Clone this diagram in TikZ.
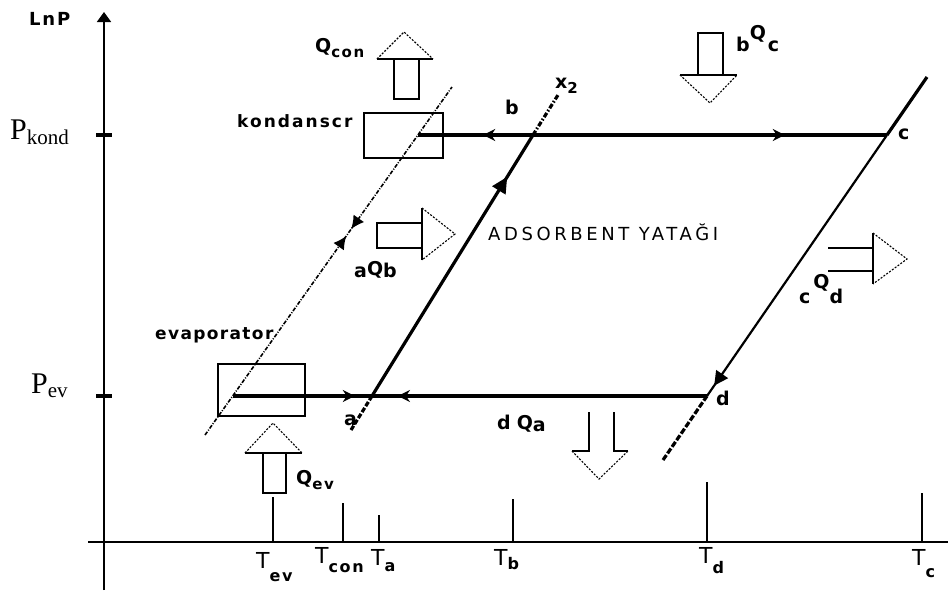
\documentclass[tikz,border=0pt]{standalone}
\usepackage{fontspec}
\setmainfont{Liberation Serif}
\newfontfamily\lab[LetterSpace=10]{DejaVu Sans}
\newfontfamily\labk[LetterSpace=12]{DejaVu Sans}
\newfontfamily\labe[LetterSpace=8]{DejaVu Sans}
\newfontfamily\labw[LetterSpace=20]{DejaVu Sans}
\newfontfamily\labn{DejaVu Sans}
\usetikzlibrary{arrows.meta,decorations.markings}
\newcommand\fsz[1]{\fontsize{#1}{#1}\selectfont}
\newcommand\Tlab[2]{{\labn\fsz{22}T}\raisebox{-#2pt}{\lab\bfseries\fsz{16}#1}}
\newcommand\Qsub[1]{\raisebox{-5pt}{\fsz{15}#1}}
\begin{document}
\begin{tikzpicture}[x=1pt,y=-1pt,
  axis/.style={line width=1.8pt},
  main/.style={line width=3.2pt},
  midline/.style={line width=2.2pt},
  sat/.style={line width=1.6pt,dash pattern=on 4pt off 1.5pt on 1pt off 1.5pt},
  tickv/.style={line width=1.3pt},
  blk/.style={line width=1.1pt},
  hd/.style={line width=1.1pt,dash pattern=on 2pt off 1.5pt},
  boxn/.style={draw,line width=1.2pt,inner sep=0pt},
  lbl/.style={font=\lab\bfseries\fsz{19},inner sep=0pt,anchor=base west},
  tlbl/.style={inner sep=0pt,anchor=base west},
]
\useasboundingbox (0,0) rectangle (948,590);
% axes
\coordinate (yb) at (104,590); \coordinate (yt) at (104,12);
\coordinate (xl) at (88,542); \coordinate (xr) at (948,542);
\draw[axis,-{Triangle[length=10pt,width=14pt]}] (yb) -- (yt);
\draw[axis] (xl) -- (xr);
\coordinate (pk1) at (96,135); \coordinate (pk2) at (112,135);
\coordinate (pe1) at (96,396); \coordinate (pe2) at (112,396);
\draw[line width=3.2pt] (pk1) -- (pk2);
\draw[line width=3.2pt] (pe1) -- (pe2);
\node[tlbl] (lnp) at (29,25) {\lab\bfseries\fsz{18}LnP};
\node[tlbl] (pkond) at (10,139) {\fsz{30}P\raisebox{-5pt}{\fsz{21}kond}};
\node[tlbl] (pev) at (31,393) {\fsz{30}P\raisebox{-4pt}{\fsz{21}ev}};
% temperature ticks
\foreach \n/\x/\y in {tev/273/497,tcon/343/503,ta/379/515,tb/513/499,td/707/482,tc/922/493}{
  \coordinate (\n1) at (\x,\y); \coordinate (\n0) at (\x,542);
  \draw[tickv] (\n0) -- (\n1);
}
\node[tlbl] (Tev) at (256,568) {\Tlab{ev}{13}};
\node[tlbl] (Tcon) at (315,563) {\Tlab{con}{9}};
\node[tlbl] (Ta) at (371,565) {\Tlab{a}{6}};
\node[tlbl] (Tb) at (494,565) {\Tlab{b}{4}};
\node[tlbl] (Td) at (699,563) {\Tlab{d}{10}};
\node[tlbl] (Tc) at (912,565) {\Tlab{c}{12}};
% boxes
\node[boxn,minimum width=79pt,minimum height=45pt] (kbox) at (403.5,135.5) {};
\node[boxn,minimum width=87pt,minimum height=52pt] (ebox) at (261.5,390) {};
\node[tlbl] (kond) at (237,127) {\labk\bfseries\fsz{17}kondanscr};
\node[tlbl] (evap) at (155,339) {\labe\bfseries\fsz{17}evaporator};
% key points
\coordinate (kL) at (418,135); \coordinate (c) at (887,135);
\coordinate (eL) at (233,396); \coordinate (d) at (707,396);
\coordinate (s1) at (205,435); \coordinate (s2) at (452,87);
\coordinate (a0) at (351,430); \coordinate (a) at (372,396);
\coordinate (b) at (533,135); \coordinate (x2) at (558,95);
\coordinate (r0) at (663,460); \coordinate (r1) at (927,77);
% saturation line
\draw[sat,postaction={decorate},decoration={markings,
  mark=at position 0.572 with {\arrow{Latex[length=13pt,width=13pt]}},
  mark=at position 0.592 with {\arrowreversed{Latex[length=13pt,width=13pt]}}}] (s1) -- (s2);
% horizontal lines
\draw[main,postaction={decorate},decoration={markings,
  mark=at position 0.139 with {\arrowreversed{Stealth[length=12pt,width=12pt]}},
  mark=at position 0.782 with {\arrow{Stealth[length=12pt,width=12pt]}}}] (kL) -- (c);
\draw[main,postaction={decorate},decoration={markings,
  mark=at position 0.257 with {\arrow{Stealth[length=12pt,width=12pt]}},
  mark=at position 0.348 with {\arrowreversed{Stealth[length=12pt,width=12pt]}}}] (eL) -- (d);
% middle isoster
\draw[main,postaction={decorate},decoration={markings,
  mark=at position 0.84 with {\arrow{Triangle[length=16pt,width=15pt]}}}] (a) -- (b);
\draw[main,dash pattern=on 5pt off 2pt] (a0) -- (a);
\draw[main,dash pattern=on 5pt off 2pt on 1.5pt off 2pt] (b) -- (x2);
% right isoster
\draw[midline,postaction={decorate},decoration={markings,
  mark=at position 0.04 with {\arrowreversed{Triangle[length=14pt,width=14pt]}}}] (d) -- (c);
\draw[main] (c) -- (r1);
\draw[main,dash pattern=on 6pt off 2pt] (r0) -- (d);
% point labels
\node[lbl] (lb) at (505,114) {b};
\node[lbl] (lx2) at (555,88) {x\raisebox{-5pt}{\fsz{15}2}};
\node[lbl] (lc) at (898,139) {c};
\node[lbl] (ld) at (716,405) {d};
\node[lbl] (la) at (344,425) {a};
\node[tlbl] (ads) at (488,240) {\labw\fsz{18}ADSORBENT YATAĞI};
% heat labels
\node[lbl] (qcon) at (315,52) {Q\Qsub{con}};
\node[lbl] (qev) at (296,484) {Q\Qsub{ev}};
\node[lbl] (aqb) at (354,277) {a\raisebox{2pt}{Q}b};
\node[lbl] (bqc) at (736,51) {b\raisebox{12pt}{Q}\hspace{2pt}c};
\node[lbl] (cqd) at (799,303) {c\hspace{3pt}\raisebox{15pt}{Q}d};
\node[lbl] (dqa) at (497,429) {d\hspace{6pt}Q\raisebox{-2pt}{a}};
% block arrows
% Q_con (up)
\draw[blk] (394,59) -- (394,99) -- (419,99) -- (419,59);
\draw[blk] (377,59) -- (433,59);
\draw[hd] (377,59) -- (404,32) -- (433,59);
% bQc (down)
\draw[blk] (698,75) -- (698,33) -- (723,33) -- (723,75);
\draw[blk] (680,75) -- (737,75);
\draw[hd] (680,75) -- (710,103) -- (737,75);
% aQb (right)
\draw[blk] (422,223) -- (377,223) -- (377,248) -- (422,248);
\draw[blk] (422,208) -- (422,260);
\draw[hd] (422,208) -- (455,234) -- (422,260);
% cQd (right, open)
\draw[blk] (828,248) -- (873,248);
\draw[blk] (828,271) -- (873,271);
\draw[blk] (873,233) -- (873,284);
\draw[hd] (873,233) -- (907,259) -- (873,284);
% dQa (down, open)
\draw[blk] (589,412) -- (589,451) -- (572,451);
\draw[blk] (614,412) -- (614,451) -- (628,451);
\draw[hd] (572,451) -- (599,479) -- (628,451);
% Q_ev (up)
\draw[blk] (263,453) -- (263,493) -- (286,493) -- (286,453);
\draw[blk] (245,453) -- (302,453);
\draw[hd] (245,453) -- (273,423) -- (302,453);
\end{tikzpicture}
\end{document}
